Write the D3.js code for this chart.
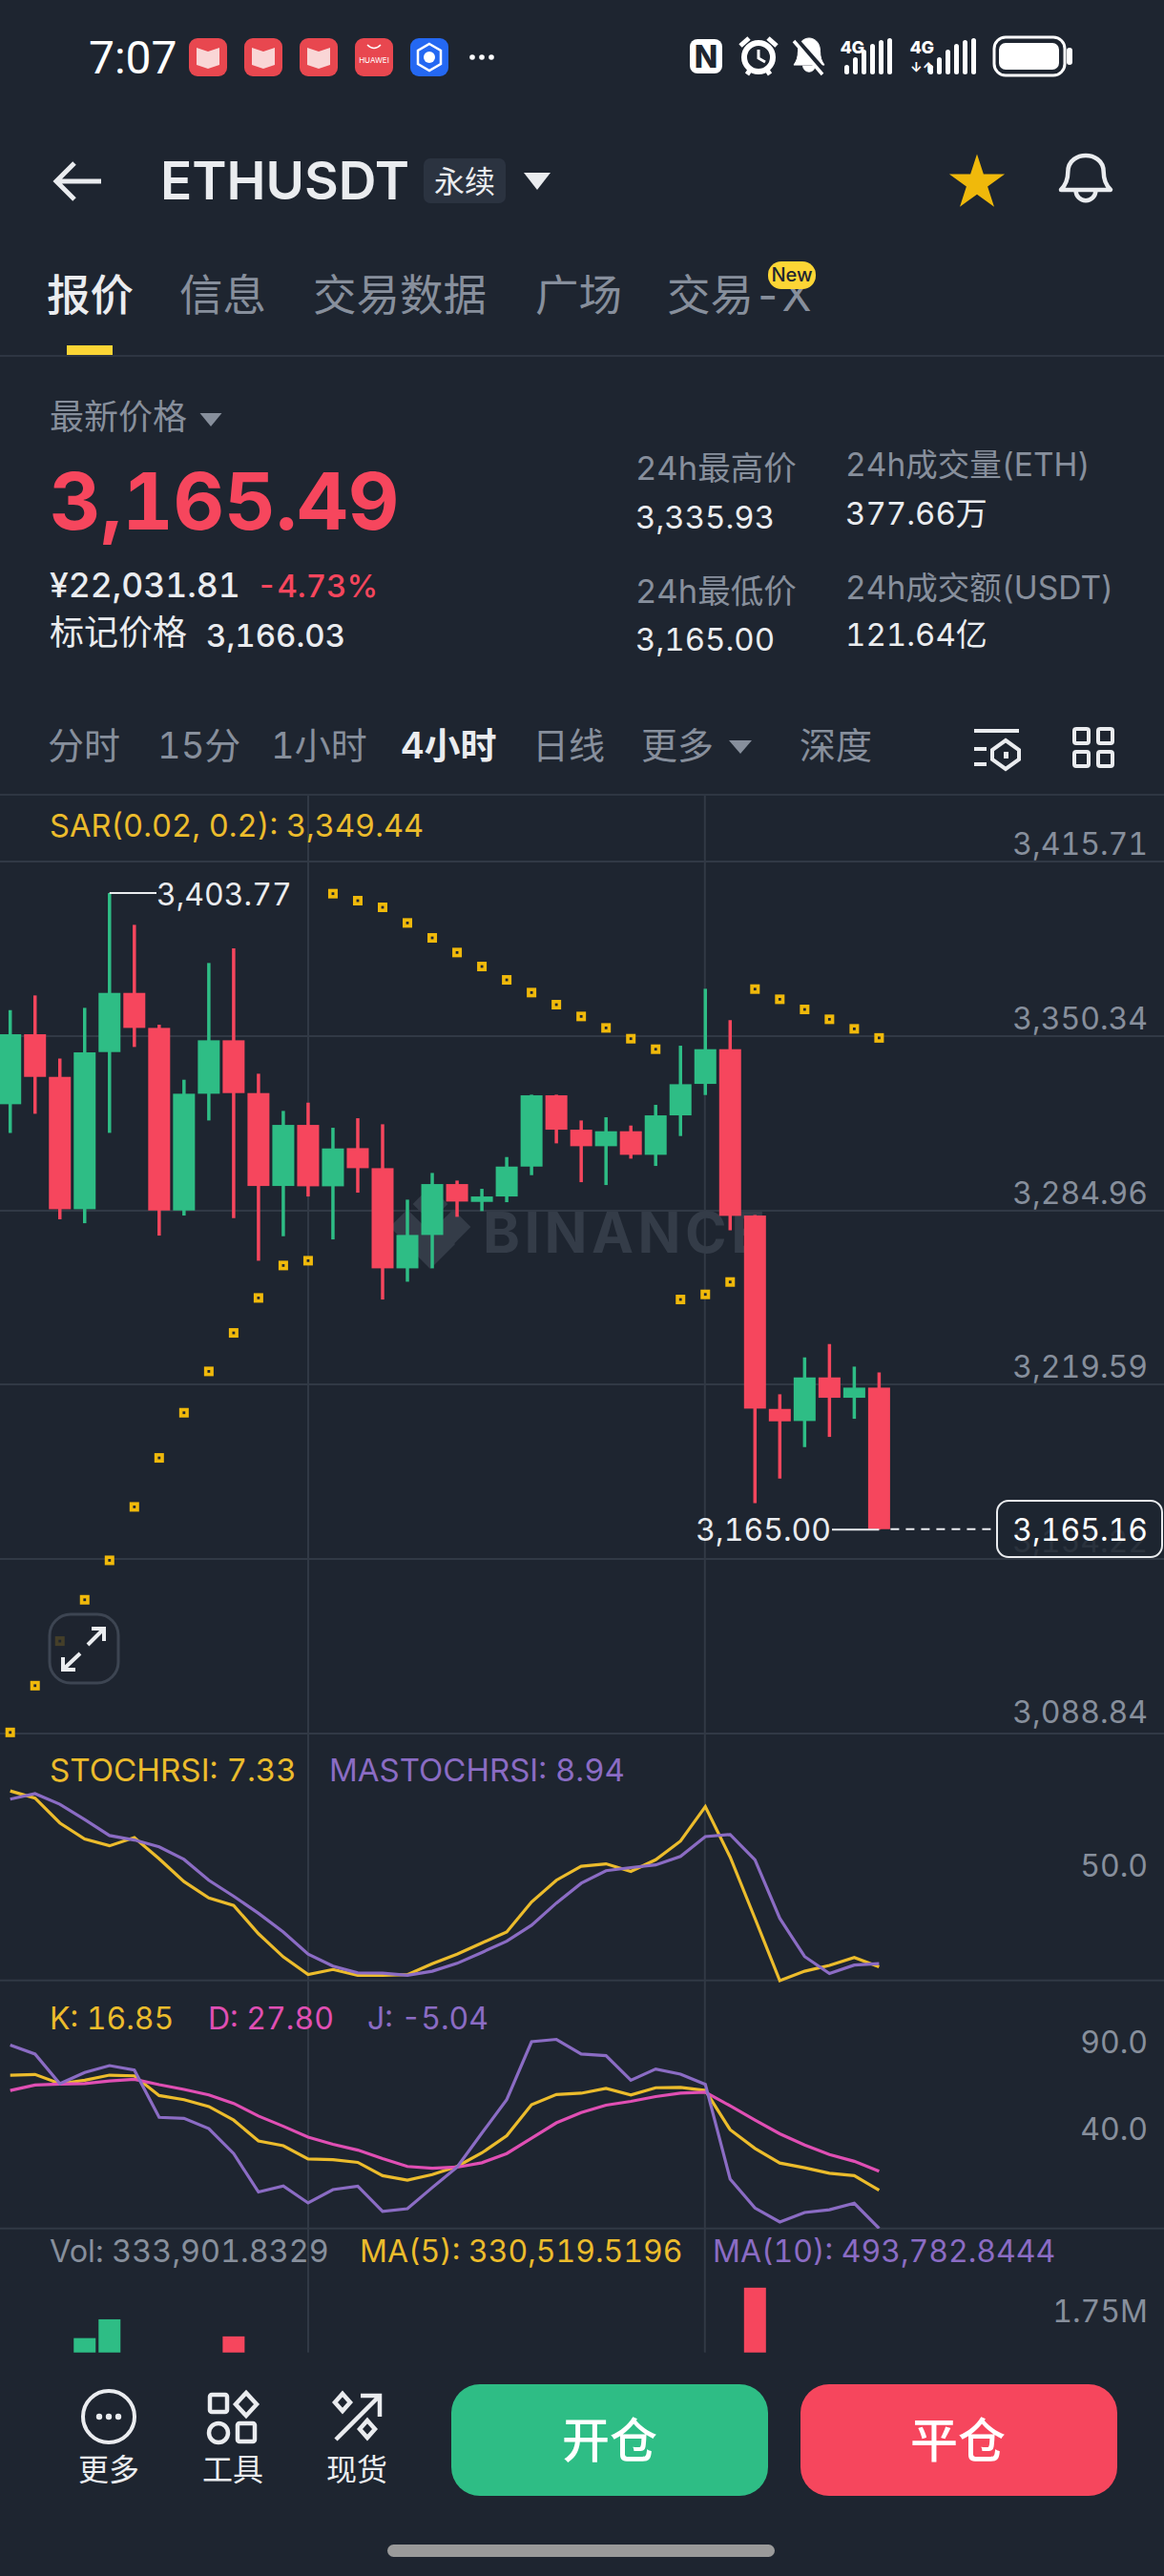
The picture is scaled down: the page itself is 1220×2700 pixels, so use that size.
<!DOCTYPE html>
<html>
<head>
<meta charset="utf-8">
<title>ETHUSDT</title>
<script src="https://d3js.org/d3.v7.min.js"></script>
<style>
  html, body { margin: 0; padding: 0; background: #1e2530; }
  svg { display: block; }
  text { font-family: Inter, "Noto Sans CJK SC", sans-serif; font-variant-numeric: tabular-nums; }
  .tick line, .domain { shape-rendering: crispEdges; }
</style>
</head>
<body>
<svg id="chart" width="1220" height="2700"></svg>
<script>
// candles, oldest first
var opens  = [3324.56,3350.81,3334.82,3285.18,3344.13,3366.32,3353.19,3284.70,3328.50,3348.54,3328.74,3293.89,3316.80,3293.77,3308.09,3300.57,3262.99,3275.52,3294.61,3287.93,3289.95,3301.17,3327.90,3315.01,3308.81,3314.42,3305.59,3320.38,3332.19,3345.20,3282.80,3210.26,3205.73,3222.07,3214.44,3218.25];
var highs  = [3359.88,3365.37,3341.74,3360.71,3403.77,3391.85,3354.39,3333.75,3377.54,3383.03,3336.01,3322.05,3325.15,3315.73,3319.31,3317.04,3288.76,3298.78,3295.92,3292.82,3304.75,3328.14,3328.14,3318.47,3319.67,3316.56,3324.32,3346.51,3367.87,3356.06,3283.03,3215.75,3229.59,3234.60,3226.13,3223.98];
var lows   = [3313.82,3320.98,3281.36,3279.93,3313.82,3346.04,3275.28,3282.80,3318.47,3281.84,3265.85,3275.04,3289.95,3273.85,3291.39,3251.30,3257.98,3262.99,3282.32,3284.47,3287.81,3297.95,3309.88,3295.32,3294.25,3304.15,3301.41,3312.63,3328.02,3277.31,3174.94,3184.13,3195.94,3199.76,3206.56,3165.00];
var closes = [3350.81,3334.82,3285.18,3344.01,3366.32,3353.19,3284.70,3328.50,3348.54,3328.74,3293.89,3316.80,3293.77,3307.97,3300.57,3262.99,3275.52,3294.61,3288.05,3289.95,3301.17,3327.90,3315.01,3308.81,3314.42,3305.59,3320.38,3332.07,3345.20,3282.68,3210.38,3205.61,3222.07,3214.44,3218.25,3165.16];

// SAR dots, one per candle
var sarValues = [3088.91,3106.45,3123.16,3138.67,3153.46,3173.51,3191.89,3208.83,3224.34,3238.78,3251.90,3264.07,3265.86,3403.55,3400.92,3398.42,3392.57,3386.96,3381.47,3376.22,3371.21,3366.44,3361.91,3357.49,3353.19,3349.14,3345.20,3251.31,3253.22,3257.87,3367.75,3363.93,3360.12,3356.42,3352.84,3349.44];

var stochValues = [99.92,96.16,83.05,74.62,71.03,75.34,64.21,52.19,43.57,39.62,24.73,12.52,3.19,5.88,2.83,2.83,3.19,8.93,13.96,19.88,25.62,41.42,52.90,60.26,61.52,57.57,63.67,73.54,91.67,65.11,32.80,0.00,4.99,8.04,12.16,7.33];
var maStochValues = [95.62,98.49,92.93,84.85,76.41,74.08,70.49,63.85,52.90,44.47,35.49,25.62,13.96,7.68,4.09,3.91,2.83,4.99,9.11,14.86,20.78,29.21,40.88,51.29,57.93,59.54,60.98,65.47,75.88,76.95,63.67,32.80,12.70,3.73,8.21,8.94];

var kValues = [82.95,83.34,78.06,80.02,82.95,82.56,71.22,68.87,64.96,57.13,45.20,42.46,34.84,34.44,32.88,25.25,22.71,25.84,30.53,38.36,48.14,65.93,71.80,72.58,75.32,71.61,75.71,75.91,74.15,51.66,40.90,32.49,29.75,26.62,25.25,16.85];
var dValues = [74.15,77.28,77.87,78.06,79.63,80.60,77.47,74.74,71.61,66.72,59.48,53.61,47.35,43.25,39.92,35.03,30.53,29.55,30.14,32.68,37.96,46.77,55.57,61.44,65.74,67.89,70.63,72.58,73.17,65.35,57.13,49.31,42.85,37.38,33.47,27.80];
var jValues = [100.16,95.08,78.06,84.51,88.43,85.88,58.70,58.11,52.24,37.96,15.86,19.38,9.60,17.23,19.19,4.71,6.28,18.41,30.14,49.70,68.87,102.12,103.49,95.08,94.10,80.02,86.47,83.54,77.67,23.30,6.67,-1.35,4.13,5.69,9.41,-5.04];

// only these volume bars rise above the footer
var volIndex = [3,4,9,30];
var volValues = [1620000,1840000,1640000,2210000];

var priceTicks = [3415.71,3350.34,3284.96,3219.59,3154.22,3088.84];
var stochTicks = [50];
var kdjTicks = [90,40];
var volTicks = [1750000];
var tabLabels = ["报价","信息","交易数据","广场","交易-X"];
var timeLabels = ["分时","15分","1小时","4小时","日线","更多","深度"];
var footerLabels = ["更多","工具","现货"];

var bg = "#1e2530", gridColor = "#313945", grey = "#878f9c", white = "#eaecef";
var green = "#2ebd85", red = "#f6465d", yellow = "#ecbc2c", pink = "#e04fb4", purple = "#8b6cc4";

var svg = d3.select("#chart");
svg.append("rect").attr("width",1220).attr("height",2700).attr("fill",bg);

function label(s, x, y, size, color, weight, anchor, parent) {
  return (parent || svg).append("text").attr("x",x).attr("y",y).attr("font-size",size)
    .attr("fill",color).attr("font-weight",weight || 400).attr("text-anchor",anchor || "start").text(s);
}
function triangle(cx, top, w, h, color) {
  svg.append("path").attr("d","M"+(cx-w/2)+","+top+"L"+(cx+w/2)+","+top+"L"+cx+","+(top+h)+"Z").attr("fill",color);
}
function bell(cx, top, w, h, color, sw) {
  var g = svg.append("g").attr("transform","translate("+cx+","+top+")").attr("fill","none").attr("stroke",color).attr("stroke-width",sw).attr("stroke-linejoin","round");
  g.append("path").attr("d","M"+(-w/2)+","+(.78*h)+"Q"+(-w*.36)+","+(.62*h)+" "+(-w*.36)+","+(.38*h)+"C"+(-w*.36)+","+(.1*h)+" "+(-w*.15)+",0 0,0C"+(w*.15)+",0 "+(w*.36)+","+(.1*h)+" "+(w*.36)+","+(.38*h)+"Q"+(w*.36)+","+(.62*h)+" "+(w/2)+","+(.78*h)+"Z");
  g.append("path").attr("d","M"+(-w*.2)+","+(.8*h)+"A"+(w*.2)+","+(w*.2)+" 0 0 0 "+(w*.2)+","+(.8*h));
  return g;
}

// ---- status bar
label("7:07",93,77,48,"#fff",400).style("font-family","Roboto");
[198,256,314].forEach(function(x) {
  svg.append("rect").attr("x",x).attr("y",40).attr("width",40).attr("height",40).attr("rx",9).attr("fill","#e8474f");
  svg.append("path").attr("d","M"+(x+8)+",50L"+(x+20)+",54L"+(x+32)+",50V68L"+(x+20)+",72L"+(x+8)+",68Z").attr("fill","#f9d6d6");
});
svg.append("rect").attr("x",372).attr("y",40).attr("width",40).attr("height",40).attr("rx",9).attr("fill","#e8474f");
label("HUAWEI",392,66,8,"#fff",400,"middle");
svg.append("path").attr("d","M385,47Q392,54 399,47").attr("fill","none").attr("stroke","#fff").attr("stroke-width",1.5);
svg.append("rect").attr("x",430).attr("y",40).attr("width",40).attr("height",40).attr("rx",9).attr("fill","#2468f2");
svg.append("path").attr("d","M450,46L462,53V67L450,74L438,67V53Z").attr("fill","none").attr("stroke","#fff").attr("stroke-width",2.5);
svg.append("circle").attr("cx",450).attr("cy",60).attr("r",6).attr("fill","#fff");
[495,505,515].forEach(function(x) { svg.append("circle").attr("cx",x).attr("cy",60).attr("r",2.8).attr("fill","#fff"); });

svg.append("rect").attr("x",723).attr("y",41).attr("width",34).attr("height",36).attr("rx",8).attr("fill","#fff");
label("N",740,71,32,bg,800,"middle");
svg.append("circle").attr("cx",795).attr("cy",60).attr("r",15).attr("fill","none").attr("stroke","#fff").attr("stroke-width",6);
svg.append("path").attr("d","M795,52V61L802,65").attr("fill","none").attr("stroke","#fff").attr("stroke-width",3);
svg.append("path").attr("d","M776,48L785,40M814,48L805,40M783,78L787,72M807,78L803,72").attr("stroke","#fff").attr("stroke-width",5);
bell(848,40,32,36,"#fff",1).attr("fill","#fff");
svg.append("path").attr("d","M833,41L864,76").attr("stroke",bg).attr("stroke-width",7);
svg.append("path").attr("d","M832,43L862,78").attr("stroke","#fff").attr("stroke-width",3.5);
label("4G",881,56,18,"#fff",800);
[[885,10],[894,18],[903,26],[912,32],[921,36],[930,38]].forEach(function(b) {
  svg.append("rect").attr("x",b[0]).attr("y",78-b[1]).attr("width",5).attr("height",b[1]).attr("rx",2.5).attr("fill","#fff");
});
label("4G",954,56,18,"#fff",800);
label("↓↑",954,76,14,"#fff",700);
[[975,10],[984,18],[993,26],[1002,32],[1011,36],[1020,38]].forEach(function(b) {
  svg.append("rect").attr("x",b[0]-2).attr("y",78-b[1]).attr("width",5).attr("height",b[1]).attr("rx",2.5).attr("fill","#fff");
});
svg.append("rect").attr("x",1042).attr("y",39).attr("width",74).attr("height",40).attr("rx",12).attr("fill","none").attr("stroke","#fff").attr("stroke-width",3);
svg.append("rect").attr("x",1047).attr("y",45).attr("width",63).attr("height",28).attr("rx",7).attr("fill","#fff");
svg.append("rect").attr("x",1118).attr("y",50).attr("width",6).attr("height",18).attr("rx",3).attr("fill","#fff");

// ---- header
svg.append("path").attr("d","M106,190H60M78,171L59,190L78,209").attr("fill","none").attr("stroke",white).attr("stroke-width",5);
label("ETHUSDT",168,209,55,white,600);
svg.append("rect").attr("x",444).attr("y",166).attr("width",86).attr("height",47).attr("rx",7).attr("fill","#2b3340");
label("永续",487,202,32,white,400,"middle");
triangle(563,181,28,18,white);
svg.append("path").attr("d",d3.symbol().type(d3.symbolStar).size(1050)()).attr("transform","translate(1024,192)").attr("fill","#f0b90b");
bell(1138,163,52,46,white,4.5);

var tabX = [49,188,328,561,699];
tabLabels.forEach(function(t,i) { label(t,tabX[i],326,45.5,i==0 ? white : grey,i==0 ? 500 : 400); });
svg.append("rect").attr("x",805).attr("y",274).attr("width",50).attr("height",29).attr("rx",14).attr("fill","#fcd535");
label("New",830,295,20,"#1e2530",500,"middle");
svg.append("rect").attr("x",70).attr("y",362).attr("width",48).attr("height",10).attr("fill","#fcd535");
svg.append("rect").attr("y",372).attr("width",1220).attr("height",2).attr("fill","#2e3642");

// ---- price block
label("最新价格",52,450,36,grey);
triangle(221,433,23,14,grey);
label("3,165.49",52,555,83,red,700);
label("¥22,031.81",52,626,35.5,white,500);
label("-4.73%",269,626,33,red,500);
label("标记价格",52,676,36,white);
label("3,166.03",216,678,33,white,500);
label("24h最高价",666,503,34.5,grey);
label("3,335.93",666,554,33,white,400);
label("24h最低价",666,632,34.5,grey);
label("3,165.00",666,682,33,white,400);
label("24h成交量(ETH)",886,499,33.5,grey);
label("377.66万",886,550,33,white,400);
label("24h成交额(USDT)",886,628,33.5,grey);
label("121.64亿",886,677,33,white,400);

// ---- interval row
var timeX = [50,165,284,420,558,672,838];
timeLabels.forEach(function(t,i) { label(t,timeX[i],795,38,i==3 ? white : grey,i==3 ? 600 : 400); });
triangle(776,776,24,14,grey);
svg.append("path").attr("d","M1021,766H1068M1021,785H1034M1021,801H1034").attr("stroke",white).attr("stroke-width",4).attr("fill","none");
svg.append("path").attr("d","M1054,776L1068,786V796L1054,806L1040,796V786Z").attr("stroke",white).attr("stroke-width",4).attr("fill","none");
svg.append("rect").attr("x",1052).attr("y",788).attr("width",5).attr("height",7).attr("fill",white);
[[1124,762],[1149,762],[1124,786],[1149,786]].forEach(function(p) {
  svg.append("rect").attr("x",p[0]+2).attr("y",p[1]+2).attr("width",15).attr("height",15).attr("rx",2).attr("fill","none").attr("stroke",white).attr("stroke-width",4);
});
svg.append("rect").attr("y",832).attr("width",1220).attr("height",2).attr("fill","#2e3642");

// ---- scales
var x = d3.scaleLinear().domain([0,35]).range([10.7,921.4]);
var y = d3.scaleLinear().domain([3415.71,3088.84]).range([902.7,1816]);
var yStoch = d3.scaleLinear().domain([0,100]).range([2076,1877]);
var yKdj = d3.scaleLinear().domain([0,100]).range([2326.5,2143.9]);
var yVol = d3.scaleLinear().domain([0,1750000]).range([2595.7,2439]);

// ---- grid
svg.append("g").attr("class","grid").call(d3.axisRight(y).tickValues(priceTicks).tickSize(1220).tickFormat(""))
  .call(function(g) { g.select(".domain").remove(); g.selectAll("line").attr("stroke",gridColor).attr("stroke-width",2); });
[2075.7,2335.7].forEach(function(v) {
  svg.append("line").attr("x1",0).attr("x2",1220).attr("y1",v).attr("y2",v).attr("stroke",gridColor).attr("stroke-width",2);
});
[323,738.8].forEach(function(v) {
  svg.append("line").attr("x1",v).attr("x2",v).attr("y1",834).attr("y2",2465.7).attr("stroke",gridColor).attr("stroke-width",2);
});

// ---- watermark
var mark = svg.append("g").attr("fill","#343c48");
[[451,1262,13],[427,1286,13],[475,1286,13]].forEach(function(d) {
  mark.append("rect").attr("x",-d[2]).attr("y",-d[2]).attr("width",2*d[2]).attr("height",2*d[2]).attr("transform","translate("+d[0]+","+d[1]+") rotate(45)");
});
mark.append("path").attr("d","M451,1278L477,1304L451,1330L425,1304Z");
label("BINANCE",506,1313,59,"#343c48",700,"start",mark).attr("letter-spacing",4.5);

// right side axis labels, text sits just above the tick
function rightAxis(scale, ticks, fmt, dy) {
  svg.append("g").attr("transform","translate(1203,0)")
    .call(d3.axisLeft(scale).tickValues(ticks).tickSize(0).tickPadding(0).tickFormat(fmt))
    .call(function(g) {
      g.select(".domain").remove();
      g.selectAll("text").attr("fill",grey).attr("font-size",32).attr("dy",dy).style("font-family","Inter");
    });
}
rightAxis(y, priceTicks.slice(0,5), d3.format(",.2f"), -7);
rightAxis(y, priceTicks.slice(5), d3.format(",.2f"), -11);
rightAxis(yStoch, stochTicks, d3.format(".1f"), -10.5);
rightAxis(yKdj, kdjTicks, d3.format(".1f"), -10.5);
rightAxis(yVol, volTicks, function(d) { return (d/1e6).toFixed(2) + "M"; }, -6);

// ---- candles
var candles = d3.range(opens.length);
function candleColor(i) { return closes[i] >= opens[i] ? green : red; }
var bodyWidth = 23;
svg.append("g").selectAll("line").data(candles).join("line")
  .attr("x1",function(i) { return x(i); }).attr("x2",function(i) { return x(i); })
  .attr("y1",function(i) { return y(highs[i]); }).attr("y2",function(i) { return y(lows[i]); })
  .attr("stroke",candleColor).attr("stroke-width",3.5);
svg.append("g").selectAll("rect").data(candles).join("rect")
  .attr("x",function(i) { return x(i) - bodyWidth/2; })
  .attr("width",bodyWidth)
  .attr("y",function(i) { return y(Math.max(opens[i],closes[i])); })
  .attr("height",function(i) { return Math.max(2,Math.abs(y(opens[i]) - y(closes[i]))); })
  .attr("fill",candleColor);

// SAR squares with a dark centre
svg.append("g").selectAll("rect").data(sarValues).join("rect")
  .attr("x",function(d,i) { return x(i) - 3.2; })
  .attr("y",function(d) { return y(d) - 3.2; })
  .attr("width",6.4).attr("height",6.4)
  .attr("fill",bg).attr("stroke","#f0b90b").attr("stroke-width",3.6);

// high / low flags
var hi = highs.indexOf(d3.max(highs)), lo = lows.indexOf(d3.min(lows));
svg.append("line").attr("x1",x(hi)).attr("x2",164).attr("y1",y(highs[hi])).attr("y2",y(highs[hi])).attr("stroke",white).attr("stroke-width",2);
label(d3.format(",.2f")(highs[hi]),164,949,32,white);
svg.append("line").attr("x1",872).attr("x2",x(lo)).attr("y1",y(lows[lo])).attr("y2",y(lows[lo])).attr("stroke",white).attr("stroke-width",2);
label(d3.format(",.2f")(lows[lo]),871,1615,32,white,400,"end");

// last price tag
var last = closes[closes.length-1];
svg.append("line").attr("x1",x(35)+12).attr("x2",1045).attr("y1",y(last)).attr("y2",y(last)).attr("stroke",white).attr("stroke-width",2).attr("stroke-dasharray","9 7");
svg.append("rect").attr("x",1045).attr("y",1573).attr("width",173).attr("height",59).attr("rx",12)
  .attr("fill",bg).attr("fill-opacity",.88).attr("stroke",white).attr("stroke-width",2);
label(d3.format(",.2f")(last),1203,1615,32,"#fff",400,"end");

// expand button
svg.append("rect").attr("x",52).attr("y",1692).attr("width",72).attr("height",72).attr("rx",22)
  .attr("fill",bg).attr("fill-opacity",.82).attr("stroke","#3d4552").attr("stroke-width",3);
svg.append("path").attr("d","M92,1724L109,1707M96,1707H109V1720M84,1733L66,1750M66,1737V1750H79").attr("fill","none").attr("stroke",white).attr("stroke-width",4);

label("SAR(0.02, 0.2): 3,349.44",52,877,32.6,yellow);

// ---- indicator panels
svg.append("clipPath").attr("id","kdjClip").append("rect").attr("y",2076).attr("width",1220).attr("height",260);
svg.append("clipPath").attr("id","volClip").append("rect").attr("y",2336).attr("width",1220).attr("height",129.7);

function drawLine(values, scale, color, clip) {
  var line = d3.line().x(function(d,i) { return x(i); }).y(function(d) { return scale(d); });
  var p = svg.append("path").attr("d",line(values)).attr("fill","none").attr("stroke",color).attr("stroke-width",3.2);
  if (clip) p.attr("clip-path","url(#"+clip+")");
}
drawLine(stochValues,yStoch,yellow);
drawLine(maStochValues,yStoch,purple);
label("STOCHRSI: 7.33",52,1867,33.2,yellow);
label("MASTOCHRSI: 8.94",345,1867,33,purple);

drawLine(kValues,yKdj,yellow,"kdjClip");
drawLine(dValues,yKdj,pink,"kdjClip");
drawLine(jValues,yKdj,purple,"kdjClip");
label("K: 16.85",52,2127,32,yellow);
label("D: 27.80",218,2127,32,pink);
label("J: -5.04",385,2127,32,purple);

// ---- volume, cut off by the footer
label("Vol: 333,901.8329",52,2371,32.4,grey);
label("MA(5): 330,519.5196",377,2371,32,yellow);
label("MA(10): 493,782.8444",747,2371,32,purple);
svg.append("g").attr("clip-path","url(#volClip)").selectAll("rect").data(volIndex).join("rect")
  .attr("x",function(d) { return x(d) - bodyWidth/2; }).attr("width",bodyWidth)
  .attr("y",function(d,i) { return yVol(volValues[i]); })
  .attr("height",function(d,i) { return yVol(0) - yVol(volValues[i]); })
  .attr("fill",candleColor);

// ---- footer
var footX = [114,244,374];
footerLabels.forEach(function(t,i) { label(t,footX[i],2600,32,white,400,"middle"); });
svg.append("circle").attr("cx",114).attr("cy",2533).attr("r",27).attr("fill","none").attr("stroke",white).attr("stroke-width",4);
[104,114,124].forEach(function(v) { svg.append("circle").attr("cx",v).attr("cy",2533).attr("r",3.2).attr("fill",white); });
var tools = svg.append("g").attr("fill","none").attr("stroke",white).attr("stroke-width",4.5);
tools.append("rect").attr("x",220).attr("y",2510).attr("width",18).attr("height",18).attr("rx",2);
tools.append("path").attr("d","M258,2508L269,2520L258,2532L247,2520Z");
tools.append("circle").attr("cx",229).attr("cy",2550).attr("r",10);
tools.append("rect").attr("x",249).attr("y",2540).attr("width",18).attr("height",19).attr("rx",2);
var spot = svg.append("g").attr("fill","none").attr("stroke",white).attr("stroke-width",4.5);
spot.append("path").attr("d","M352,2557L397,2512M378,2511H398V2533");
spot.append("path").attr("d","M359,2509L367,2518L359,2527L351,2518Z");
spot.append("path").attr("d","M385,2537L393,2546L385,2555L377,2546Z");

svg.append("rect").attr("x",473).attr("y",2499).attr("width",332).attr("height",117).attr("rx",30).attr("fill",green);
label("开仓",639,2576,50,"#fff",500,"middle");
svg.append("rect").attr("x",839).attr("y",2499).attr("width",332).attr("height",117).attr("rx",30).attr("fill",red);
label("平仓",1004,2576,50,"#fff",500,"middle");
svg.append("rect").attr("x",406).attr("y",2667).attr("width",406).attr("height",13).attr("rx",6.5).attr("fill","#9a9a9a");
</script>
</body>
</html>
